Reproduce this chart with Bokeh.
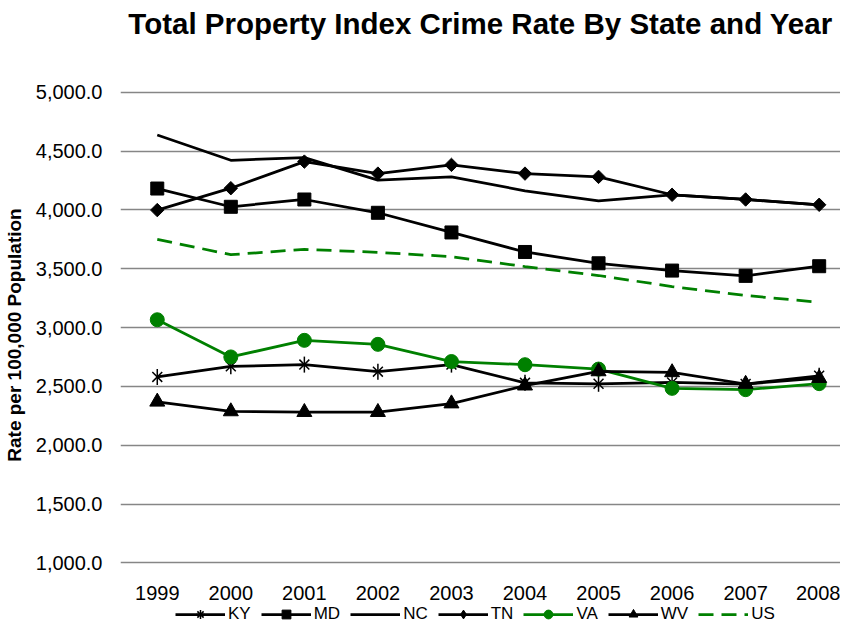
from bokeh.plotting import figure
from bokeh.models import (Range1d, FixedTicker, PrintfTickFormatter, NumeralTickFormatter,
                          Legend, LegendItem)
from bokeh.embed import file_html
from bokeh.resources import INLINE
import numpy as np

years = [1999, 2000, 2001, 2002, 2003, 2004, 2005, 2006, 2007, 2008]
KY = [2580, 2670, 2685, 2625, 2685, 2530, 2522, 2533, 2520, 2590]
MD = [4181, 4026, 4088, 3975, 3808, 3642, 3546, 3484, 3439, 3521]
NC = [4636, 4421, 4444, 4253, 4280, 4162, 4077, 4128, 4088, 4043]
TN = [3998, 4184, 4410, 4308, 4382, 4308, 4280, 4128, 4088, 4043]
VA = [3066, 2750, 2891, 2857, 2711, 2684, 2647, 2483, 2472, 2523]
WV = [2369, 2287, 2281, 2281, 2354, 2506, 2627, 2619, 2520, 2570]
US = [3749, 3619, 3664, 3639, 3602, 3518, 3442, 3348, 3272, 3215]
y_ticks = [1000, 1500, 2000, 2500, 3000, 3500, 4000, 4500, 5000]

FONT = "Liberation Sans"
BLACK = "#000000"
GREEN = "#008000"
LW = 2.75

p = figure(width=840, height=625,
           x_range=Range1d(1998.5, 2008.29), y_range=Range1d(468, 5405),
           output_backend="svg", toolbar_location=None,
           min_border_left=115, min_border_right=0, min_border_top=40, min_border_bottom=0)
p.outline_line_color = None
p.background_fill_color = "white"
p.border_fill_color = "white"

p.title.text = "Total Property Index Crime Rate By State and Year"
p.title.text_font = FONT
p.title.text_font_size = "29.5px"
p.title.text_font_style = "bold"
p.title.text_color = BLACK
p.title.align = "center"
p.title.standoff = 9

# axes
p.xaxis.ticker = FixedTicker(ticks=years)
p.xaxis.formatter = PrintfTickFormatter(format="%d")
p.xaxis.fixed_location = y_ticks[0]
p.xaxis.axis_line_color = None
p.xaxis.major_tick_line_color = None
p.xaxis.minor_tick_line_color = None
p.xaxis.major_label_text_font = FONT
p.xaxis.major_label_text_font_size = "20px"
p.xaxis.major_label_text_color = BLACK
p.xaxis.major_label_standoff = 17

p.yaxis.ticker = FixedTicker(ticks=y_ticks)
p.yaxis.formatter = NumeralTickFormatter(format="0,0.0")
p.yaxis.axis_line_color = None
p.yaxis.major_tick_line_color = None
p.yaxis.minor_tick_line_color = None
p.yaxis.major_label_text_font = FONT
p.yaxis.major_label_text_font_size = "20px"
p.yaxis.major_label_text_color = BLACK
p.yaxis.major_label_standoff = 12
p.yaxis.axis_label = "Rate per 100,000 Population"
p.yaxis.axis_label_text_font = FONT
p.yaxis.axis_label_text_font_size = "19px"
p.yaxis.axis_label_text_font_style = "bold"
p.yaxis.axis_label_text_color = BLACK
p.yaxis.axis_label_standoff = 8

p.xgrid.grid_line_color = None
p.ygrid.ticker = FixedTicker(ticks=y_ticks)
p.ygrid.grid_line_color = "#868686"
p.ygrid.grid_line_width = 1.3

items = []

# KY: line + six-armed star (x + vertical dash); a hair-size cross supplies the legend's star
r1 = p.line(years, KY, line_color=BLACK, line_width=LW)
r2 = p.scatter(years, KY, marker="x", size=14, line_color=BLACK, line_width=1.5)
r3 = p.scatter(years, KY, marker="dash", angle=np.pi / 2, size=16, line_color=BLACK, line_width=1.5)
k_leg = p.scatter(years, KY, marker="cross", size=0.1, line_color=BLACK, line_width=1.5)
items.append(LegendItem(label="KY", renderers=[r1, r2, k_leg]))

r1 = p.line(years, MD, line_color=BLACK, line_width=LW)
r2 = p.scatter(years, MD, marker="square", size=13, fill_color=BLACK, line_color=BLACK)
items.append(LegendItem(label="MD", renderers=[r1, r2]))

r1 = p.line(years, NC, line_color=BLACK, line_width=LW)
items.append(LegendItem(label="NC", renderers=[r1]))

# TN: square diamonds (rotated squares); a hair-size diamond supplies the legend's marker
r1 = p.line(years, TN, line_color=BLACK, line_width=LW)
t_leg = p.scatter(years, TN, marker="diamond", size=0.1, fill_color=BLACK, line_color=BLACK)
r2 = p.scatter(years, TN, marker="square", angle=np.pi / 4, size=9.5, fill_color=BLACK, line_color=BLACK)
items.append(LegendItem(label="TN", renderers=[r1, t_leg]))

r1 = p.line(years, VA, line_color=GREEN, line_width=LW)
r2 = p.scatter(years, VA, marker="circle", size=14, fill_color=GREEN, line_color=GREEN)
items.append(LegendItem(label="VA", renderers=[r1, r2]))

r1 = p.line(years, WV, line_color=BLACK, line_width=LW)
r2 = p.scatter(years, WV, marker="triangle", size=15, fill_color=BLACK, line_color=BLACK)
items.append(LegendItem(label="WV", renderers=[r1, r2]))

r1 = p.line(years, US, line_color=GREEN, line_width=LW, line_dash="15 8")
items.append(LegendItem(label="US", renderers=[r1]))

legend = Legend(items=items, orientation="horizontal", location=(55, 0),
                glyph_width=50, glyph_height=22, label_height=22, label_standoff=3,
                spacing=10, padding=0, margin=0,
                border_line_color=None, background_fill_alpha=0,
                label_text_font=FONT, label_text_font_size="17px", label_text_color=BLACK)
p.add_layout(legend)

open("out.html", "w").write(file_html(p, INLINE))
